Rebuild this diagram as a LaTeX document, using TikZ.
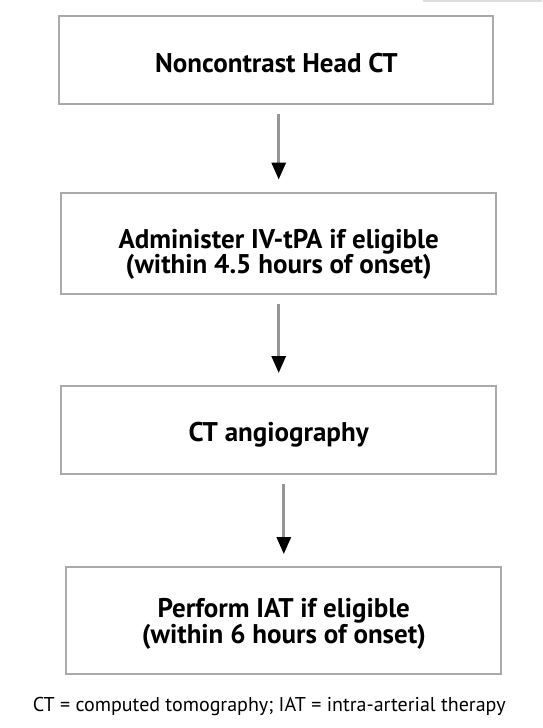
\documentclass[tikz,border=0pt]{standalone}
\usepackage{fontspec}
\setmainfont{PT Sans}
\newfontfamily\stagefont{PT Sans}
\newfontfamily\notefont{PT Sans}
\usetikzlibrary{arrows.meta}
\definecolor{framegrey}{RGB}{170,170,170}
\definecolor{shaftgrey}{RGB}{150,150,150}

\begin{document}
\begin{tikzpicture}[x = 1pt, y = -1pt,
    stage/.style = {draw = framegrey, line width = 2pt, minimum width = 435pt, inner sep = 0pt, align = center, font = \stagefont\bfseries\fontsize{27}{25}\selectfont},
    flow/.style = {draw = shaftgrey, line width = 3pt, shorten <= 9pt, shorten >= 12pt, -{Triangle[width = 14pt, length = 17pt, black]}}]
    \useasboundingbox (0,0) rectangle (542,728);
    \draw [framegrey!40, line width = 2pt] (423,1) -- (542,1);
    \node [stage, minimum width = 434pt, minimum height = 88pt, text height = 30pt, text depth = 6pt] (headct) at (276.4,60) {Noncontrast Head CT};
    \node [stage, minimum height = 101.5pt, text height = 68pt, text depth = 8pt] (ivtpa) at (278.7,243.3) {Administer IV-tPA if eligible\\(within 4.5 hours of onset)};
    \node [stage, minimum height = 88pt, text height = 30pt, text depth = 7pt] (cta) at (278.7,430) {CT angiography};
    \node [stage, minimum height = 107pt, text height = 52pt, text depth = 7pt] (iat) at (283.8,620.5) {Perform IAT if eligible\\(within 6 hours of onset)};
    \node [anchor = base, font = \notefont\fontsize{20}{21}\selectfont] (abbrev) at (269.2,711.7) {CT = computed tomography; IAT = intra-arterial therapy};
    \draw [flow] (ivtpa.north |- headct.south) -- (ivtpa.north);
    \draw [flow] (cta.north |- ivtpa.south) -- (cta.north);
    \draw [flow] (iat.north |- cta.south) -- (iat.north);
\end{tikzpicture}
\end{document}
